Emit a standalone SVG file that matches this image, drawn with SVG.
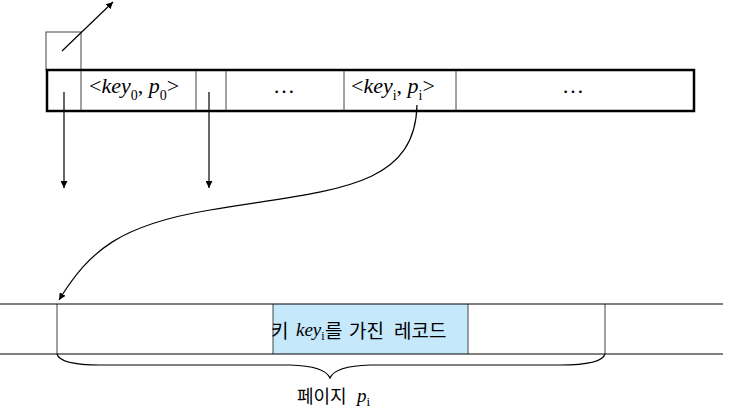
<svg xmlns="http://www.w3.org/2000/svg" width="729" height="414" viewBox="0 0 729 414">
<defs>
<marker id="ah" viewBox="0 0 10 10" refX="10" refY="5" markerWidth="7" markerHeight="7" markerUnits="userSpaceOnUse" orient="auto"><path d="M0,0 L10,5 L0,10 z" fill="#000"/></marker>
<style>
.thin{fill:none;stroke:#444;stroke-width:1}
.conn{fill:none;stroke:#000;stroke-width:1.2}
.tm{font-family:"Liberation Serif",serif;fill:#000}
.it{font-style:italic}
.kr{font-family:"Noto Sans CJK KR","Noto Sans",sans-serif;fill:#000}
</style>
</defs>
<rect width="729" height="414" fill="#fff"/>
<g id="pointer-box">
<rect x="46" y="32" width="35" height="38" class="thin"/>
</g>
<g id="node-row">
<rect x="47" y="70" width="647" height="41" fill="#fff" stroke="#000" stroke-width="2.5"/>
<line x1="81" y1="71" x2="81" y2="110" class="thin"/>
<line x1="196" y1="71" x2="196" y2="110" class="thin"/>
<line x1="226" y1="71" x2="226" y2="110" class="thin"/>
<line x1="344" y1="71" x2="344" y2="110" class="thin"/>
<line x1="456" y1="71" x2="456" y2="110" class="thin"/>
<text class="tm" font-size="22" x="89" y="93">&lt;<tspan class="it">key</tspan><tspan font-size="14" dy="7">0</tspan><tspan dy="-7">, </tspan><tspan class="it">p</tspan><tspan font-size="14" dy="7">0</tspan><tspan dy="-7">&gt;</tspan></text>
<text class="tm" font-size="22" x="284" y="93" text-anchor="middle">…</text>
<text class="tm" font-size="22" x="351" y="93">&lt;<tspan class="it">key</tspan><tspan font-size="14" dy="7">i</tspan><tspan dy="-7">, </tspan><tspan class="it">p</tspan><tspan font-size="14" dy="7">i</tspan><tspan dy="-7">&gt;</tspan></text>
<text class="tm" font-size="22" x="573" y="93" text-anchor="middle">…</text>
</g>
<g id="page">
<rect x="273" y="304" width="195" height="50" fill="#c5e8fb"/>
<line x1="57" y1="304" x2="57" y2="354" class="thin"/>
<line x1="273" y1="304" x2="273" y2="354" class="thin"/>
<line x1="468" y1="304" x2="468" y2="354" class="thin"/>
<line x1="605" y1="304" x2="605" y2="354" class="thin"/>
<line x1="0" y1="304" x2="723" y2="304" stroke="#000" stroke-width="1"/>
<line x1="0" y1="354" x2="723" y2="354" stroke="#000" stroke-width="1"/>
<text class="kr" font-size="19" y="338"><tspan x="271">키</tspan></text>
<text class="tm" font-size="19" x="296" y="336"><tspan class="it">key</tspan><tspan font-size="12" dy="4">i</tspan></text>
<text class="kr" font-size="19" y="338"><tspan x="325">를</tspan><tspan x="349">가진</tspan><tspan x="394">레코드</tspan></text>
<path d="M57,354 Q60,365 100,365 L290,365 Q325,366 330,378 Q335,366 370,365 L560,365 Q602,365 605,354" class="conn"/>
<text class="kr" font-size="18" x="297" y="403">페이지</text>
<text class="tm" font-size="19" x="357" y="402"><tspan class="it">p</tspan><tspan font-size="13" dy="4">i</tspan></text>
</g>
<g id="connectors">
<line x1="62" y1="51" x2="113" y2="2" class="conn" marker-end="url(#ah)"/>
<line x1="64" y1="92" x2="64" y2="188" class="conn" marker-end="url(#ah)"/>
<line x1="209" y1="92" x2="209" y2="188" class="conn" marker-end="url(#ah)"/>
<path d="M417,105 C415,190 330,190 210,210 C120,225 90,250 59,300" class="conn" marker-end="url(#ah)"/>
</g>
</svg>
